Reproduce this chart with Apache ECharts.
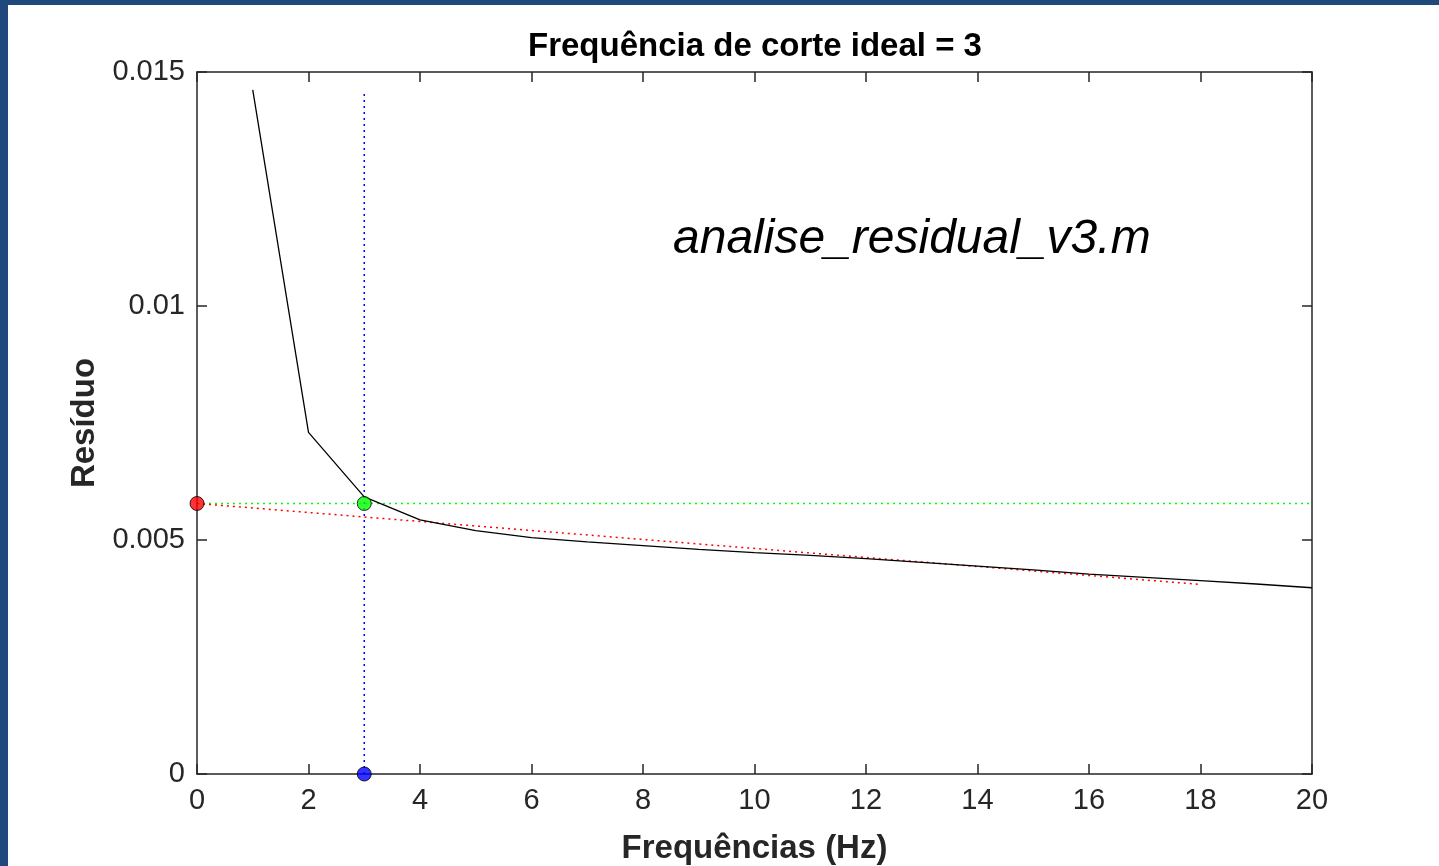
<!DOCTYPE html>
<html>
<head>
<meta charset="utf-8">
<script src="https://cdn.jsdelivr.net/npm/echarts@6/dist/echarts.min.js"></script>
<style>
html,body{margin:0;padding:0;background:#fff;}
#c{width:1439px;height:866px;}
</style>
</head>
<body>
<div id="c"></div>
<script>
// Data
const freqs = [1,2,3,4,5,6,7,8,9,10,11,12,13,14,15,16,17,18,19,20];
const residuals = [0.01462,0.00730,0.00592,0.00543,0.00520,0.00505,0.00496,0.00488,0.00480,0.00473,0.00467,0.00460,0.00452,0.00444,0.00436,0.00427,0.00420,0.00413,0.00406,0.00398];
const cutoffFreq = 3;
const cutoffResidual = 0.00578;
const blueLineTop = 0.01457;
const redLineX = [0, 18];
const redLineY = [0.00578, 0.00405];
const greenLineX = [0, 20];
const xTicks = [0,2,4,6,8,10,12,14,16,18,20];
const yTickLabels = {"0":"0","0.005":"0.005","0.01":"0.01","0.015":"0.015"};
const titleText = "Frequência de corte ideal = 3";
const xName = "Frequências (Hz)";
const yName = "Resíduo";
const noteText = "analise_residual_v3.m";

const chart = echarts.init(document.getElementById('c'), null, {renderer:'canvas'});
const axisColor = '#262626';
const font = 'Liberation Sans, Arial, sans-serif';

const mainData = freqs.map((f,i)=>[f, residuals[i]]);
const redData = redLineX.map((x,i)=>[x, redLineY[i]]);
const greenData = greenLineX.map(x=>[x, cutoffResidual]);
const blueData = [[cutoffFreq, 0],[cutoffFreq, blueLineTop]];

function yFmt(v){
  const k = String(Math.round(v*1000)/1000);
  return yTickLabels[k] !== undefined ? yTickLabels[k] : k;
}

const baseX = {
  type:'value', min:xTicks[0], max:xTicks[xTicks.length-1], interval:2,
  axisLine:{show:true, onZero:false, lineStyle:{color:axisColor, width:1.5}},
  axisTick:{show:true, inside:true, length:10, lineStyle:{color:axisColor, width:1.5}},
  splitLine:{show:false}
};
const baseY = {
  type:'value', min:0, max:0.015, interval:0.005,
  axisLine:{show:true, onZero:false, lineStyle:{color:axisColor, width:1.5}},
  axisTick:{show:true, inside:true, length:10, lineStyle:{color:axisColor, width:1.5}},
  splitLine:{show:false}
};

chart.setOption({
  animation:false,
  backgroundColor:'#ffffff',
  title:{
    text:titleText, left:523, top:25,
    textStyle:{fontFamily:font, fontWeight:'bold', fontSize:33, color:'#000'}
  },
  grid:{left:197, right:127, top:72, bottom:92, containLabel:false, outerBoundsMode:'none'},
  xAxis:[
    Object.assign({}, baseX, {
      position:'bottom',
      name:xName, nameLocation:'middle', nameGap:58,
      nameTextStyle:{fontFamily:font, fontWeight:'bold', fontSize:33, color:axisColor},
      axisLabel:{show:true, margin:12, fontFamily:font, fontSize:29, color:axisColor}
    }),
    Object.assign({}, baseX, {position:'top', axisLabel:{show:false}})
  ],
  yAxis:[
    Object.assign({}, baseY, {
      position:'left',
      name:yName, nameLocation:'middle', nameGap:88, nameRotate:90,
      nameTextStyle:{fontFamily:font, fontWeight:'bold', fontSize:33, color:axisColor},
      axisLabel:{show:true, margin:12, fontFamily:font, fontSize:29, color:axisColor, formatter:yFmt}
    }),
    Object.assign({}, baseY, {position:'right', axisLabel:{show:false}})
  ],
  graphic:[
    {type:'rect', shape:{x:0,y:0,width:8,height:866}, style:{fill:'#1F497D'}, z:100},
    {type:'rect', shape:{x:0,y:0,width:1439,height:5}, style:{fill:'#1F497D'}, z:100},
    {type:'text', left:673, top:216, style:{text:noteText, font:'italic 48px Liberation Sans, Arial, sans-serif', fill:'#000'}, z:50}
  ],
  series:[
    {type:'line', data:greenData, symbol:'none', lineStyle:{color:'#00ff00', width:1.5, type:[2,4]}, z:2},
    {type:'line', data:redData, symbol:'none', lineStyle:{color:'#ff0000', width:1.5, type:[2,4]}, z:2},
    {type:'line', data:blueData, symbol:'none', lineStyle:{color:'#0000ff', width:1.5, type:[2,4]}, z:2},
    {type:'line', data:mainData, symbol:'none', lineStyle:{color:'#000', width:1.3}, z:3},
    {type:'scatter', data:[[0, cutoffResidual]], symbol:'circle', symbolSize:14, itemStyle:{color:'#ff0000', borderColor:'#000', borderWidth:1}, z:5},
    {type:'scatter', data:[[cutoffFreq, cutoffResidual]], symbol:'circle', symbolSize:14, itemStyle:{color:'#00ff00', borderColor:'#000', borderWidth:1}, z:5},
    {type:'scatter', data:[[cutoffFreq, 0]], symbol:'circle', symbolSize:14, itemStyle:{color:'#0000ff', borderColor:'#000', borderWidth:1}, z:5}
  ]
});
</script>
</body>
</html>
